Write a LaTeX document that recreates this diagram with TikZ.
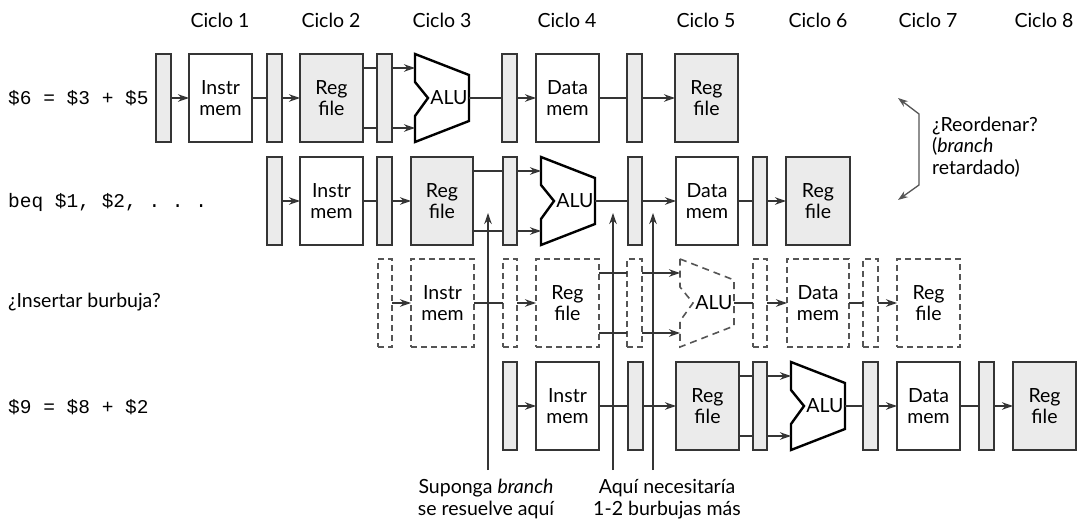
\documentclass[tikz,border=0pt]{standalone}
\usepackage{fontspec}
\setmainfont{Lato}
\setmonofont{Liberation Mono}
\usetikzlibrary{arrows.meta}
\definecolor{lg}{HTML}{EBEBEB}
\definecolor{ln}{HTML}{353535}
\definecolor{dl}{HTML}{555555}
\tikzset{
  base/.style={draw=ln, line width=1.2pt, inner sep=0pt, outer sep=0pt, align=center, font=\fontsize{19.5}{21.5}\selectfont},
  latch/.style={base, fill=lg},
  wbox/.style={base, fill=white},
  gbox/.style={base, fill=lg},
  dbox/.style={base, draw=dl, fill=white, dash pattern=on 6pt off 4pt},
  wire/.style={draw=ln, line width=1.2pt},
  arr/.style={wire, -{Stealth[length=11pt,width=7.5pt]}},
  alustyle/.style={draw=black, line width=2.4pt, line join=miter, fill=white},
  dalustyle/.style={draw=dl, line width=1.6pt, dash pattern=on 7pt off 5pt, fill=white},
  lbl/.style={font=\fontsize{19.5}{21.5}\selectfont},
  code/.style={font=\ttfamily\fontsize{19.5}{22}\selectfont, anchor=west, inner sep=0pt},
  brk/.style={draw=dl, line width=1.3pt, {Stealth[length=10pt,width=7pt]}-{Stealth[length=10pt,width=7pt]}},
}
\newcommand\bx[7]{\node[#6, minimum width={(#4-#2)*1pt}, minimum height={(#5-#3)*1pt}] (#1) at ({(#2+#4)/2},{(#3+#5)/2}) {#7};}
\newcommand\alu[4]{%
  \path[#4] (#2,#3) -- ++(54,21) -- ++(0,46) -- ++(-54,21) -- ++(0,-26) -- ++(13,-18) -- ++(-13,-16) -- cycle;
  \node[inner sep=0pt, outer sep=0pt, minimum width=54pt, minimum height=88pt] (#1) at ({#2+27},{#3+44}) {};
  \node[lbl, inner sep=0pt] (#1t) at ({#2+34},{#3+44}) {ALU};
}
% row connectors: #1 row index
\newcommand\rowwires[1]{%
  \draw[arr] (L#11) -- (IM#1);
  \draw[wire] (IM#1) -- (L#12);
  \draw[arr] (L#12) -- (RF#1);
  \draw[wire] ([yshift=-14pt]RF#1.north east) -- ([yshift=-14pt]RF#1.north east -| L#13.west);
  \draw[wire] ([yshift=14pt]RF#1.south east) -- ([yshift=14pt]RF#1.south east -| L#13.west);
  \draw[arr] ([yshift=-14pt]L#13.north east) -- ([yshift=-14pt]L#13.north east -| A#1.west);
  \draw[arr] ([yshift=14pt]L#13.south east) -- ([yshift=14pt]L#13.south east -| A#1.west);
  \draw[wire] (A#1.east) -- (A#1.east -| L#14.west);
  \draw[arr] (L#14) -- (DM#1);
  \draw[wire] (DM#1) -- (L#15);
  \draw[arr] (L#15) -- (RB#1);
}
\begin{document}
\begin{tikzpicture}[x=1pt,y=-1pt]
\useasboundingbox (0,0) rectangle (1082,521);

% cycle headers
\foreach \n/\x in {1/220,2/331,3/442,4/567,5/706,6/818,7/928,8/1044}
  \node[lbl] (c\n) at (\x,20) {Ciclo \n};

% instruction labels
\node[code] (i1) at (8,98) {\$6 = \$3 + \$5};
\node[code] (i2) at (8,202) {beq \$1, \$2, . . .};
\node[lbl, anchor=west, inner sep=0pt] (i3) at (8,302) {¿Insertar burbuja?};
\node[code] (i4) at (8,407) {\$9 = \$8 + \$2};

% row 1
\bx{L11}{156}{54}{171}{142}{latch}{}
\bx{IM1}{189}{54}{252}{142}{wbox}{Instr\\mem}
\bx{L12}{267}{54}{282}{142}{latch}{}
\bx{RF1}{300}{54}{363}{142}{gbox}{Reg\\file}
\bx{L13}{377}{54}{392}{142}{latch}{}
\alu{A1}{415}{54}{alustyle}
\bx{L14}{502}{54}{517}{142}{latch}{}
\bx{DM1}{536}{54}{599}{142}{wbox}{Data\\mem}
\bx{L15}{627}{54}{642}{142}{latch}{}
\bx{RB1}{675}{54}{738}{142}{gbox}{Reg\\file}
\rowwires{1}

% row 2
\bx{L21}{267}{157}{282}{245}{latch}{}
\bx{IM2}{300}{157}{363}{245}{wbox}{Instr\\mem}
\bx{L22}{377}{157}{392}{245}{latch}{}
\bx{RF2}{411}{157}{473}{245}{gbox}{Reg\\file}
\bx{L23}{503}{157}{517}{245}{latch}{}
\alu{A2}{541}{157}{alustyle}
\bx{L24}{628}{157}{642}{245}{latch}{}
\bx{DM2}{676}{157}{738}{245}{wbox}{Data\\mem}
\bx{L25}{753}{157}{767}{245}{latch}{}
\bx{RB2}{786}{157}{850}{245}{gbox}{Reg\\file}
\rowwires{2}

% row 3 (dashed)
\bx{L31}{378}{259}{392}{347}{dbox}{}
\bx{IM3}{411}{259}{474}{347}{dbox}{Instr\\mem}
\bx{L32}{503}{259}{517}{347}{dbox}{}
\bx{RF3}{536}{259}{599}{347}{dbox}{Reg\\file}
\bx{L33}{627}{259}{642}{347}{dbox}{}
\alu{A3}{680}{259}{dalustyle}
\bx{L34}{753}{259}{767}{347}{dbox}{}
\bx{DM3}{787}{259}{849}{347}{dbox}{Data\\mem}
\bx{L35}{863}{259}{878}{347}{dbox}{}
\bx{RB3}{897}{259}{960}{347}{dbox}{Reg\\file}
\rowwires{3}

% row 4
\bx{L41}{503}{362}{517}{450}{latch}{}
\bx{IM4}{536}{362}{599}{450}{wbox}{Instr\\mem}
\bx{L42}{628}{362}{643}{450}{latch}{}
\bx{RF4}{676}{362}{739}{450}{gbox}{Reg\\file}
\bx{L43}{753}{362}{767}{450}{latch}{}
\alu{A4}{791}{362}{alustyle}
\bx{L44}{863}{362}{878}{450}{latch}{}
\bx{DM4}{897}{362}{960}{450}{wbox}{Data\\mem}
\bx{L45}{979}{362}{994}{450}{latch}{}
\bx{RB4}{1013}{362}{1076}{450}{gbox}{Reg\\file}
\rowwires{4}

% vertical markers
\coordinate (v1b) at (488,470); \coordinate (v1t) at (488,213);
\coordinate (v2b) at (613,470); \coordinate (v2t) at (613,213);
\coordinate (v3b) at (653,470); \coordinate (v3t) at (653,213);
\draw[arr] (v1b) -- (v1t);
\draw[arr] (v2b) -- (v2t);
\draw[arr] (v3b) -- (v3t);
\node[lbl, align=center] (t1) at (486,499) {Suponga \textit{branch}\\se resuelve aquí};
\node[lbl, align=center] (t2) at (667,499) {Aquí necesitaría\\1-2 burbujas más};

% reorder annotation
\coordinate (b1) at (898,98);
\coordinate (b2) at (919,114);
\coordinate (b3) at (919,185);
\coordinate (b4) at (898,200);
\draw[brk] (b1) -- (b2) -- (b3) -- (b4);
\node[lbl, align=left, anchor=west, inner sep=0pt] (ro) at (932,147) {¿Reordenar?\\(\textit{branch}\\retardado)};
\end{tikzpicture}
\end{document}
